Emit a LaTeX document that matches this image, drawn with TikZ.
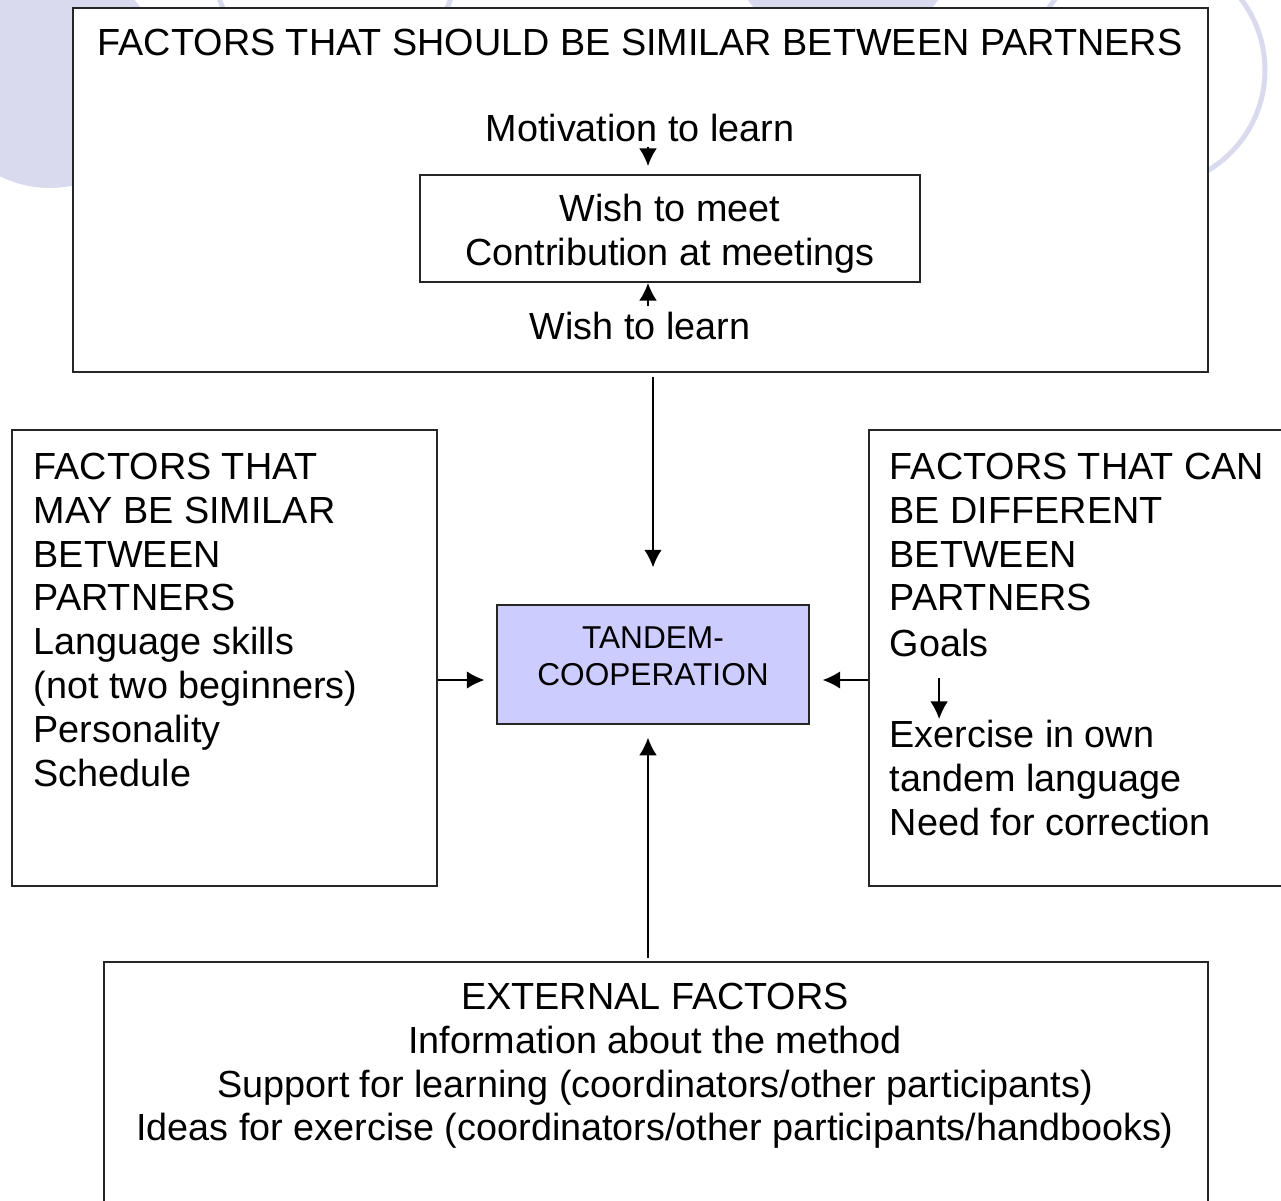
\documentclass[tikz,border=0pt]{standalone}
\usepackage{fontspec}
\setmainfont{Liberation Sans}
\usetikzlibrary{arrows.meta,positioning}

\definecolor{lilac}{RGB}{218,218,238}
\definecolor{tandemblue}{RGB}{204,204,255}

\begin{document}
\begin{tikzpicture}[x=0.02cm,y=-0.02cm,>={Latex[length=10pt,width=10pt]},line width=0.9pt]
                \tikzstyle{factorbox}=[draw=black!85,line width=1.1pt,fill=white,rectangle,inner sep=0pt]
                \tikzstyle{bigtext}=[inner sep=0pt,font=\fontsize{21.5}{25}\selectfont]
                \tikzstyle{ring}=[draw=lilac,line width=0.1cm]

                \useasboundingbox (0,0) rectangle (1281,1200);
                \clip (0,0) rectangle (1281,1200);

                % template circles behind the boxes
                \fill[lilac] (50,75) circle[radius=2.26cm];
                \fill[lilac] (843,-68) circle[radius=2.34cm];
                \draw[ring] (335,-40) circle[radius=2.44cm];
                \draw[ring] (1148,70) circle[radius=2.34cm];

                % boxes
                \node[factorbox,minimum width=22.7cm,minimum height=7.28cm]  (should)   at (640.5,190) {};
                \node[factorbox,minimum width=8.5cm,minimum height=9.12cm]   (may)      at (224.5,658) {};
                \node[factorbox,minimum width=8.62cm,minimum height=9.12cm]  (can)      at (1084.5,658) {};
                \node[factorbox,minimum width=22.08cm,minimum height=5.96cm] (external) at (656,1111) {};
                \node[factorbox,fill=tandemblue,line width=0.8pt,minimum width=6.24cm,minimum height=2.38cm,
                      label={[align=center,font=\fontsize{18}{21}\selectfont,yshift=0.16cm]center:TANDEM-\\COOPERATION}]
                      (tandem) at (653,664.5) {};
                \node[factorbox,minimum width=10cm,minimum height=2.14cm,
                      label={[bigtext,align=center,yshift=-0.1cm]center:Wish to meet\\Contribution at meetings}]
                      (meet) at (670,228.5) {};

                % texts
                \node[bigtext,anchor=north] (shouldtitle) at (640,28) {FACTORS THAT SHOULD BE SIMILAR BETWEEN PARTNERS};
                \node[bigtext,anchor=north] (motivation)  at (640,113) {Motivation to learn};
                \node[bigtext,anchor=north] (learn)       at (640,311) {Wish to learn};
                \node[bigtext,anchor=north west,align=left] (maytext) at (33,452)
                      {FACTORS THAT\\MAY BE SIMILAR\\BETWEEN\\PARTNERS\\Language skills\\(not two beginners)\\Personality\\Schedule};
                \node[bigtext,anchor=north west,align=left] (cantext) at (889,452)
                      {FACTORS THAT CAN\\BE DIFFERENT\\BETWEEN\\PARTNERS};
                \node[bigtext,anchor=north west] (goals) at (889,628) {Goals};
                \node[bigtext,anchor=north west,align=left] (exercise) at (889,719)
                      {Exercise in own\\tandem language\\Need for correction};
                \node[bigtext,anchor=north,align=center] (exttext) at (655,982)
                      {EXTERNAL FACTORS\\Information about the method\\Support for learning (coordinators/other participants)\\Ideas for exercise (coordinators/other participants/handbooks)};

                \coordinate (axis) at (648,0);
                \coordinate (mid)  at ([yshift=-0.31cm]tandem.center);

                % arrows
                \draw[->,shorten <=0.1cm,shorten >=0.16cm] (motivation.south -| axis) -- (meet.north -| axis);
                \draw[->,shorten <=0.1cm] (learn.north -| axis) -- (meet.south -| axis);
                \draw[->,shorten <=0.08cm,shorten >=0.74cm] (should.south -| tandem.north) -- (tandem.north);
                \draw[->,shorten <=0.06cm,shorten >=0.26cm] (external.north -| axis) -- (tandem.south -| axis);
                \draw[->,shorten >=0.24cm] (may.east |- mid) -- (tandem.west |- mid);
                \draw[->,shorten >=0.26cm] (can.west |- mid) -- (tandem.east |- mid);
                \draw[->,shorten <=0.42cm] (goals.south) -- (goals.south |- exercise.north);
\end{tikzpicture}
\end{document}
